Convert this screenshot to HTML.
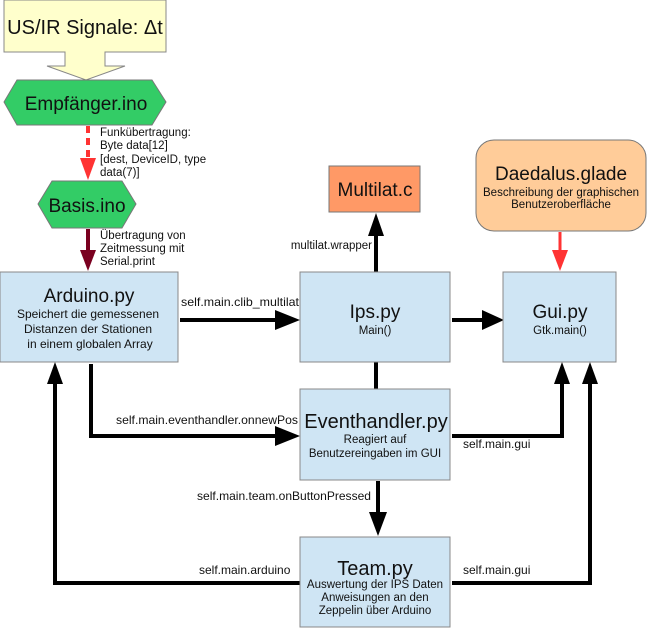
<!DOCTYPE html>
<html><head><meta charset="utf-8"><style>body{margin:0;background:#fff}svg{display:block}text{font-family:"Liberation Sans",sans-serif;fill:#111}</style></head><body>
<svg width="647" height="629" viewBox="0 0 647 629" xmlns="http://www.w3.org/2000/svg">
<!-- US/IR -->
<path d="M4,0 H166 V52 H105 V66 H125 L86,80 L47,66 H65 V52 H4 Z" fill="#ffffcc" stroke="#888" stroke-width="1"/>
<text x="85" y="34" font-size="20" text-anchor="middle">US/IR Signale: Δt</text>
<!-- Empfänger -->
<polygon points="4,102 17,80 152,80 166,102 152,125 17,125" fill="#33cc66" stroke="#777"/>
<text x="86" y="110" font-size="19" text-anchor="middle">Empfänger.ino</text>
<line x1="88" y1="126" x2="88" y2="160" stroke="#ff3333" stroke-width="4" stroke-dasharray="7,5"/>
<polygon points="80,158 96,158 88,180" fill="#ff3333"/>
<text font-size="11.5"><tspan x="100" y="136">Funkübertragung:</tspan><tspan x="100" y="149">Byte data[12]</tspan><tspan x="100" y="163">[dest, DeviceID, type</tspan><tspan x="100" y="176">data(7)]</tspan></text>
<!-- Basis -->
<polygon points="38,204 52,181 122,181 136,204 122,228 52,228" fill="#33cc66" stroke="#777"/>
<text x="87" y="212" font-size="19" text-anchor="middle">Basis.ino</text>
<line x1="88" y1="229" x2="88" y2="252" stroke="#7a0020" stroke-width="4"/>
<polygon points="80,250 96,250 88,271" fill="#7a0020"/>
<text font-size="11.5"><tspan x="100" y="239">Übertragung von</tspan><tspan x="100" y="252">Zeitmessung mit</tspan><tspan x="100" y="265">Serial.print</tspan></text>
<!-- Multilat -->
<rect x="329" y="166" width="91" height="46" fill="#ff9966" stroke="#777"/>
<text x="375" y="196" font-size="19" text-anchor="middle">Multilat.c</text>
<line x1="376" y1="272" x2="376" y2="232" stroke="#000" stroke-width="4"/>
<polygon points="368,236 384,236 376,213" fill="#000"/>
<text x="372" y="249" font-size="11.5" text-anchor="end">multilat.wrapper</text>
<!-- Daedalus -->
<rect x="476" y="140" width="170" height="91" rx="18" fill="#ffcc99" stroke="#777"/>
<text x="561" y="180" font-size="19" text-anchor="middle">Daedalus.glade</text>
<text x="561" y="196" font-size="11.5" text-anchor="middle">Beschreibung der graphischen</text>
<text x="561" y="208" font-size="11.5" text-anchor="middle">Benutzeroberfläche</text>
<line x1="560" y1="232" x2="560" y2="252" stroke="#ff3333" stroke-width="3"/>
<polygon points="552,250 568,250 560,271" fill="#ff3333"/>
<!-- connectors -->
<g stroke="#000" stroke-width="4" fill="none">
<line x1="180" y1="320" x2="280" y2="320"/>
<line x1="452" y1="320" x2="485" y2="320"/>
<line x1="376" y1="362" x2="376" y2="390"/>
<polyline points="91,364 91,436 280,436"/>
<polyline points="452,436 562,436 562,380"/>
<line x1="378" y1="481" x2="378" y2="515"/>
<polyline points="300,583 55,583 55,380"/>
<polyline points="452,583 590,583 590,380"/>
</g>
<g fill="#000">
<polygon points="275,310 275,330 300,320"/>
<polygon points="482,310 482,330 504,320"/>
<polygon points="275,426 275,446 300,436"/>
<polygon points="554,384 570,384 562,362"/>
<polygon points="582,384 598,384 590,362"/>
<polygon points="47,384 63,384 55,362"/>
<polygon points="369,512 387,512 378,536"/>
</g>
<!-- boxes -->
<g fill="#cfe5f4" stroke="#888">
<rect x="0" y="272" width="178" height="90"/>
<rect x="300" y="272" width="150" height="90"/>
<rect x="503" y="272" width="113" height="90"/>
<rect x="300" y="389" width="150" height="91"/>
<rect x="300" y="537" width="150" height="90"/>
</g>
<text x="89" y="302" font-size="19" text-anchor="middle">Arduino.py</text>
<text font-size="12" text-anchor="middle"><tspan x="88" y="318">Speichert die gemessenen</tspan><tspan x="88" y="333">Distanzen der Stationen</tspan><tspan x="90" y="348">in einem globalen Array</tspan></text>
<text x="375" y="318" font-size="19" text-anchor="middle">Ips.py</text>
<text x="375" y="334" font-size="11.5" text-anchor="middle">Main()</text>
<text x="560" y="318" font-size="19" text-anchor="middle">Gui.py</text>
<text x="560" y="334" font-size="11.5" text-anchor="middle">Gtk.main()</text>
<text x="376" y="428" font-size="20" text-anchor="middle">Eventhandler.py</text>
<text font-size="11.5" text-anchor="middle"><tspan x="375" y="443">Reagiert auf</tspan><tspan x="375" y="457">Benutzereingaben im GUI</tspan></text>
<text x="375" y="575" font-size="20" text-anchor="middle">Team.py</text>
<text font-size="11.5" text-anchor="middle"><tspan x="375" y="588">Auswertung der IPS Daten</tspan><tspan x="375" y="601">Anweisungen an den</tspan><tspan x="375" y="614">Zeppelin über Arduino</tspan></text>
<!-- labels -->
<g font-size="12">
<text x="181" y="306" textLength="118" lengthAdjust="spacingAndGlyphs">self.main.clib_multilat</text>
<text x="116" y="424" textLength="182" lengthAdjust="spacingAndGlyphs">self.main.eventhandler.onnewPos</text>
<text x="463" y="448">self.main.gui</text>
<text x="197" y="500" textLength="174" lengthAdjust="spacingAndGlyphs">self.main.team.onButtonPressed</text>
<text x="199" y="574">self.main.arduino</text>
<text x="463" y="574">self.main.gui</text>
</g>
</svg>
</body></html>
